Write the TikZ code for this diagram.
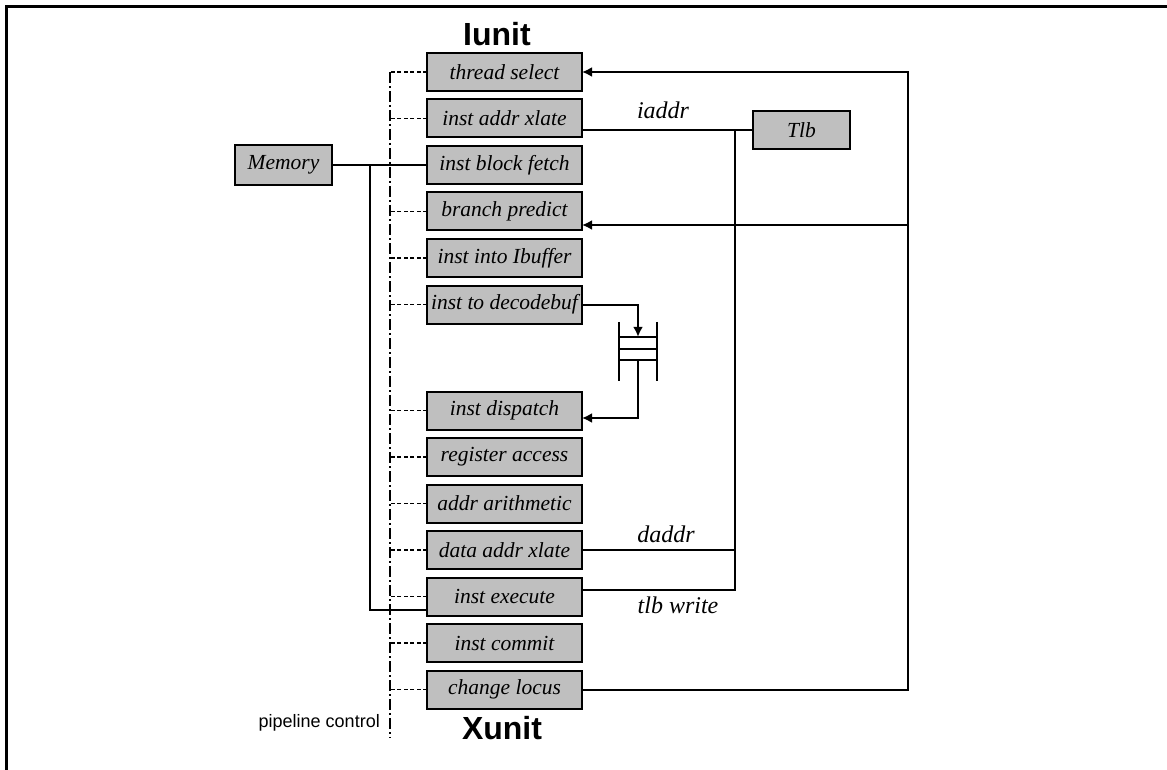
\documentclass[tikz,border=0pt]{standalone}
\usepackage{fontspec}
\setmainfont{Liberation Serif}
\setsansfont{Liberation Sans}
\usetikzlibrary{arrows.meta,positioning}

\newcommand*{\stagefont}{\fontsize{21.5pt}{24pt}\selectfont\itshape}
\newcommand*{\buslblfont}{\fontsize{24pt}{27pt}\selectfont\itshape}
\newcommand*{\unitfont}{\fontsize{32pt}{36pt}\selectfont\sffamily\bfseries}
\newcommand*{\ctlfont}{\fontsize{18pt}{21pt}\selectfont\sffamily}

\begin{document}
\begin{tikzpicture}[
  x=1pt, y=-1pt,
  node distance=8.5pt,
  stage/.style={draw, line width=2pt, fill=black!25, minimum width=155pt, minimum height=38pt, inner sep=0pt, outer sep=0pt, font=\stagefont},
  wire/.style={line width=2pt},
  arr/.style={wire, -{Latex[length=10pt,width=10pt]}},
  spine/.style={line width=1.6pt, dash pattern=on 11pt off 3pt on 2pt off 3pt},
  ctrl/.style={line width=1.5pt, dash pattern=on 4pt off 2.5pt},
  buslbl/.style={font=\buslblfont, inner sep=0pt},
  unit/.style={font=\unitfont, inner sep=0pt}
]
\useasboundingbox (0,0) rectangle (1167,770);
\draw[line width=2.2pt] (6.5,770) |- (1167,6.5);

% pipeline stages
\node[stage] (thread) at (504.5,72) {thread select};
\node[stage, below=of thread] (ixlate) {inst addr xlate};
\node[stage, below=of ixlate] (fetch) {inst block fetch};
\node[stage, below=of fetch] (bpred) {branch predict};
\node[stage, below=of bpred] (ibuf) {inst into Ibuffer};
\node[stage, below=of ibuf] (decode) {inst to decodebuf};
\node[stage, below=68pt of decode] (dispatch) {inst dispatch};
\node[stage, below=of dispatch] (regs) {register access};
\node[stage, below=of regs] (agen) {addr arithmetic};
\node[stage, below=of agen] (dxlate) {data addr xlate};
\node[stage, below=of dxlate] (exec) {inst execute};
\node[stage, below=of exec] (commit) {inst commit};
\node[stage, below=of commit] (locus) {change locus};

\node[unit] (iunit) at (497,34) {Iunit};
\node[unit] (xunit) at (502,728) {Xunit};

\node[stage, minimum width=97pt, minimum height=40pt] (mem) at (283.5,165) {Memory};
\node[stage, minimum width=97pt] (tlb) at (801.5,130.5) {Tlb};

% pipeline control
\coordinate (ctltop) at ([xshift=-37pt]thread.west);
\coordinate (ctlbot) at (ctltop |- 0,738);
\draw[spine] (ctltop) -- (ctlbot);
\foreach \s in {thread,ixlate,fetch,bpred,ibuf,decode,dispatch,regs,agen,dxlate,exec,commit,locus}
  \draw[ctrl] (\s.west) -- (\s.west -| ctltop);
\node[font=\ctlfont, anchor=base east, inner sep=0pt] (pctl) at (380,727) {pipeline control};

% memory
\draw[wire] (mem.east) -- (mem.east -| fetch.west);
\draw[wire] ([xshift=38pt]mem.east) |- ([yshift=-13.5pt]exec.west);

% tlb
\coordinate (tbus) at ([xshift=-18pt]tlb.west);
\draw[wire] (tlb.west) -- (tlb.west -| ixlate.east);
\draw[wire] (tbus) |- ([yshift=6.5pt]exec.east);
\draw[wire] (dxlate.east) -- (dxlate.east -| tbus);
\node[buslbl] (iaddr) at (663,110) {iaddr};
\node[buslbl] (daddr) at (666,534) {daddr};
\node[buslbl] (tlbw) at (678,605) {tlb write};

% decode queue
\node[minimum width=38pt, minimum height=23pt, inner sep=0pt] (queue) at (638,348.5) {};
\draw[wire] (queue.north west) -- (queue.north east)
  (queue.west) -- (queue.east)
  (queue.south west) -- (queue.south east);
\draw[wire] ([yshift=15pt]queue.north west) -- ([yshift=-21pt]queue.south west);
\draw[wire] ([yshift=15pt]queue.north east) -- ([yshift=-21pt]queue.south east);
\draw[arr] (decode.east) -| (queue.north);
\draw[arr] (queue.south) |- ([yshift=-7.5pt]dispatch.east);

% redirect
\coordinate (fbx) at ([xshift=326pt]locus.east);
\draw[arr] (locus.east) -- (fbx) |- (thread.east);
\draw[arr] ([yshift=-13.5pt]bpred.east -| fbx) -- ([yshift=-13.5pt]bpred.east);
\end{tikzpicture}
\end{document}
